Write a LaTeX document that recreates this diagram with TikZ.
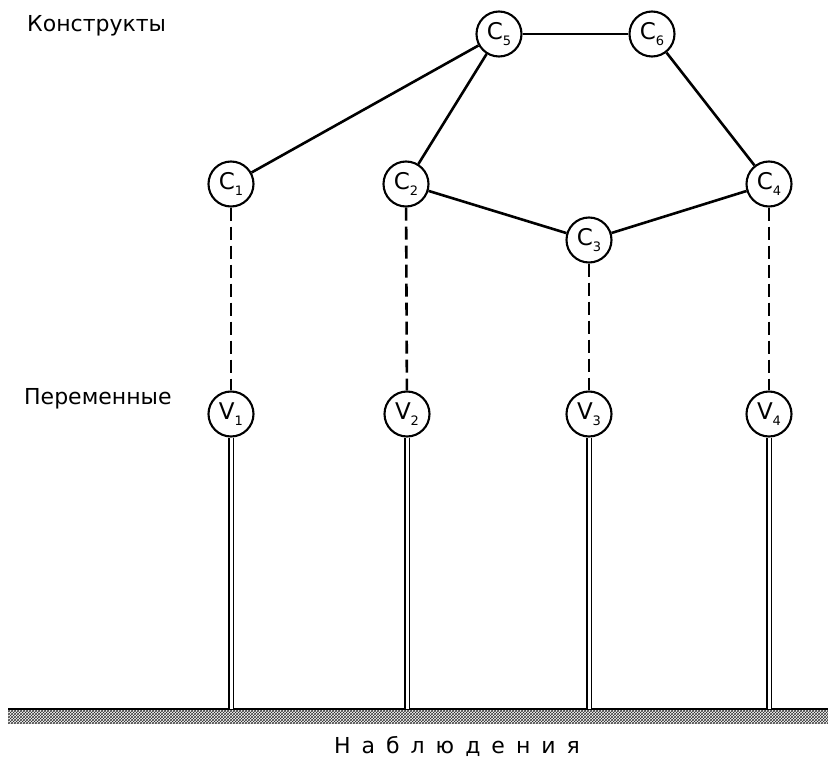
\documentclass[tikz,border=0pt]{standalone}
\usepackage{fontspec}
\setmainfont{DejaVu Sans}
\usetikzlibrary{patterns}
\newcommand{\sublbl}[2]{#1\raisebox{-6pt}{\fontsize{13}{13}\selectfont #2}}
\begin{document}
\begin{tikzpicture}[x=1pt,y=-1pt,
  cnode/.style={circle,draw,line width=2.1pt,minimum size=45pt,inner sep=0pt,font=\fontsize{23}{23}\selectfont},
  link/.style={line width=2.6pt},
  dlink/.style={line width=2.6pt,dash pattern=on 13pt off 6pt},
  stem/.style={double distance=3pt,line width=1.8pt},
  lbl/.style={font=\fontsize{22}{22}\selectfont,inner sep=0pt}]
\useasboundingbox (0,0) rectangle (828,762);
% ground
\fill[pattern=crosshatch,pattern color=black!80] (8,709) rectangle (828,723);
\draw[line width=2.8pt] (8,709) -- (828,709);
% nodes
\node[cnode] (C5) at (499,34) {\sublbl{C}{5}};
\node[cnode] (C6) at (652,34) {\sublbl{C}{6}};
\node[cnode] (C1) at (231,184) {\sublbl{C}{1}};
\node[cnode] (C2) at (406,184) {\sublbl{C}{2}};
\node[cnode] (C4) at (769,184) {\sublbl{C}{4}};
\node[cnode] (C3) at (589,240) {\sublbl{C}{3}};
\node[cnode] (V1) at (231,414) {\sublbl{V}{1}};
\node[cnode] (V2) at (407,414) {\sublbl{V}{2}};
\node[cnode] (V3) at (589,414) {\sublbl{V}{3}};
\node[cnode] (V4) at (769,414) {\sublbl{V}{4}};
\coordinate (G1) at (231,709);
\coordinate (G2) at (407,709);
\coordinate (G3) at (589,709);
\coordinate (G4) at (769,709);
% labels
\node[lbl,anchor=west] (tc) at (27,26) {Конструкты};
\node[lbl,anchor=west] (tv) at (24,399) {Переменные};
\node[lbl,font=\fontsize{22}{22}\selectfont\addfontfeature{LetterSpace=50}] (to) at (457,746) {Наблюдения};
% links
\draw[link] (C5) -- (C6);
\draw[link] (C5) -- (C1);
\draw[link] (C5) -- (C2);
\draw[link] (C6) -- (C4);
\draw[link] (C2) -- (C3);
\draw[link] (C3) -- (C4);
\draw[dlink] (C1) -- (V1);
\draw[dlink] (C2) -- (V2);
\draw[dlink] (C3) -- (V3);
\draw[dlink] (C4) -- (V4);
\draw[stem] (V1) -- (G1);
\draw[stem] (V2) -- (G2);
\draw[stem] (V3) -- (G3);
\draw[stem] (V4) -- (G4);
\end{tikzpicture}
\end{document}
